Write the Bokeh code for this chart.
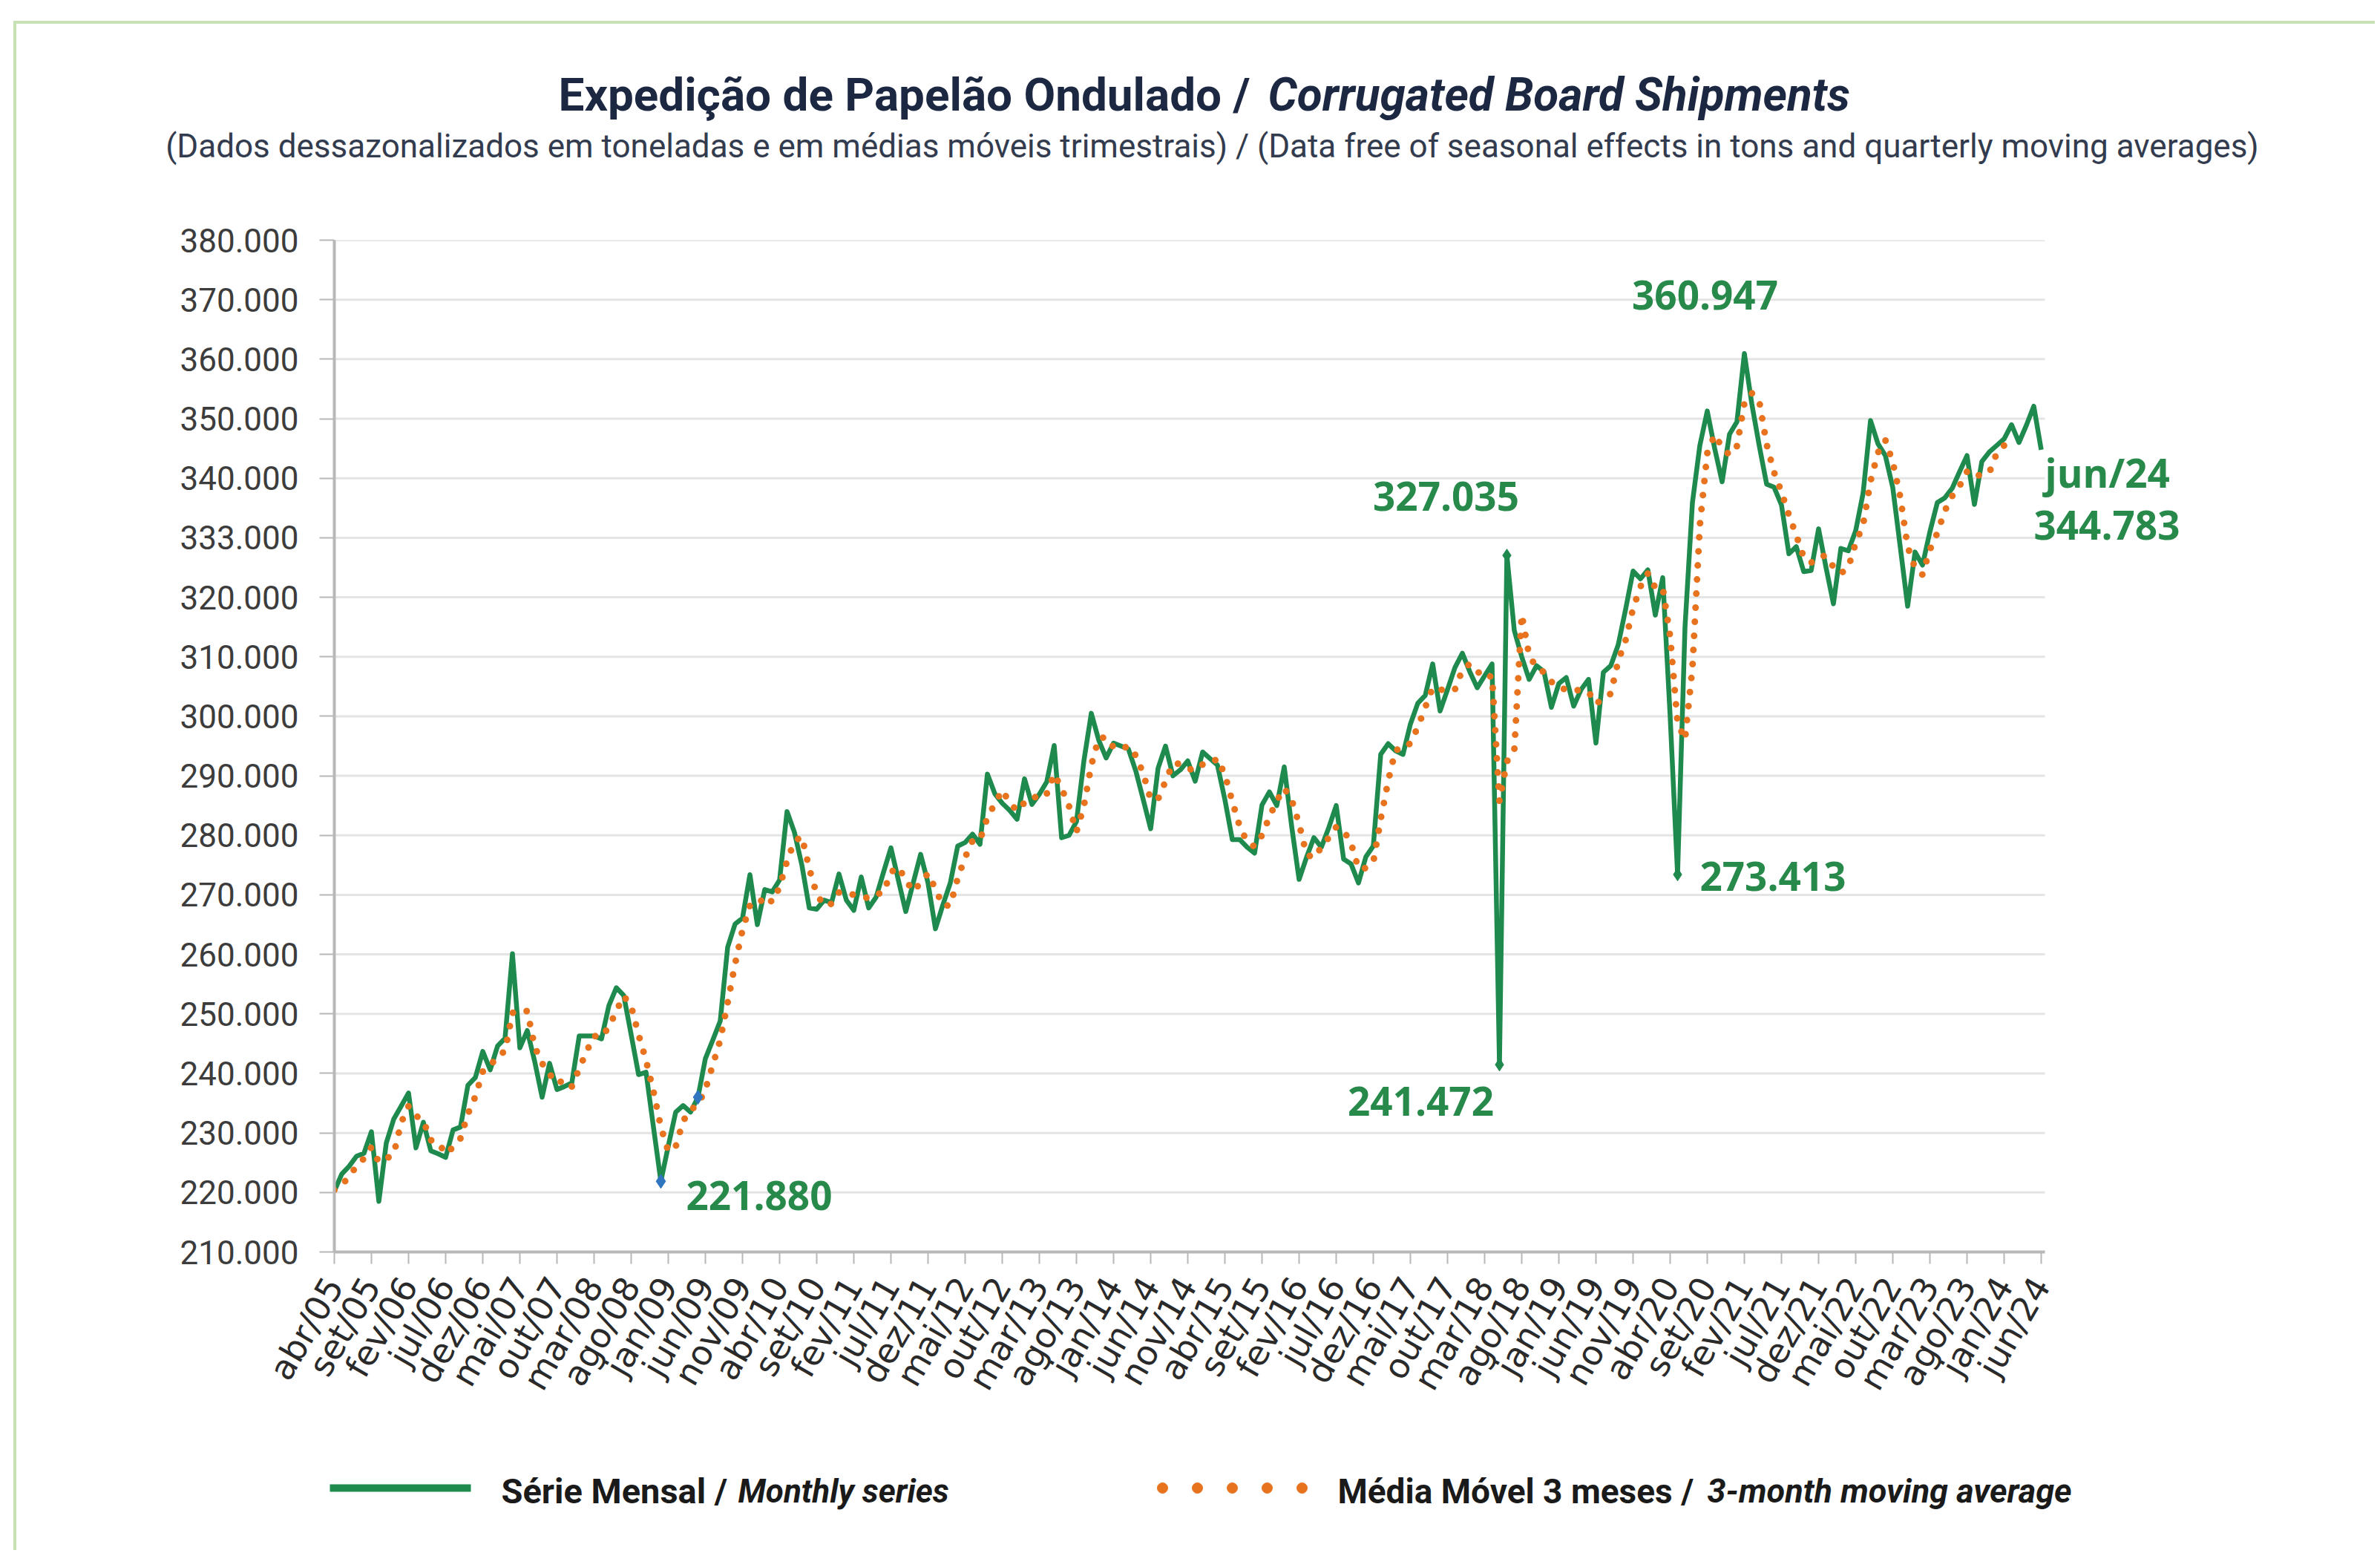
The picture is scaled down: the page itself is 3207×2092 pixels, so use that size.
import math
from bokeh.plotting import figure
from bokeh.models import Range1d, FixedTicker, Label
from bokeh.core.properties import value
from bokeh.embed import file_html
from bokeh.resources import INLINE

# ---------------- data (thousand tons) ----------------
x_tick_labels = ["abr/05", "set/05", "fev/06", "jul/06", "dez/06", "mai/07", "out/07", "mar/08",
                 "ago/08", "jan/09", "jun/09", "nov/09", "abr/10", "set/10", "fev/11", "jul/11",
                 "dez/11", "mai/12", "out/12", "mar/13", "ago/13", "jan/14", "jun/14", "nov/14",
                 "abr/15", "set/15", "fev/16", "jul/16", "dez/16", "mai/17", "out/17", "mar/18",
                 "ago/18", "jan/19", "jun/19", "nov/19", "abr/20", "set/20", "fev/21", "jul/21",
                 "dez/21", "mai/22", "out/22", "mar/23", "ago/23", "jan/24", "jun/24"]

y_tick_values = [210, 220, 230, 240, 250, 260, 270, 280, 290, 300, 310, 320, 330, 340, 350, 360, 370, 380]
y_tick_labels = ["210.000", "220.000", "230.000", "240.000", "250.000", "260.000", "270.000", "280.000",
                 "290.000", "300.000", "310.000", "320.000", "333.000", "340.000", "350.000", "360.000",
                 "370.000", "380.000"]

monthly = [
    220.2, 223.1, 224.4, 226.1, 226.6, 230.2, 218.5, 228.3, 232.3, 234.5,
    236.7, 227.5, 231.8, 227.0, 226.5, 225.9, 230.5, 231.0, 238.0, 239.3,
    243.7, 240.6, 244.6, 245.9, 260.1, 244.3, 247.2, 242.0, 236.0, 241.7,
    237.3, 237.8, 238.4, 246.3, 246.3, 246.3, 245.8, 251.4, 254.4, 253.1,
    246.5, 239.8, 240.2, 231.0, 221.880, 227.8, 233.5, 234.6, 233.5, 236.0,
    242.5, 245.6, 248.8, 261.2, 265.1, 266.1, 273.4, 265.0, 270.9, 270.5,
    272.5, 284.0, 280.5, 275.0, 267.8, 267.6, 269.1, 268.7, 273.5, 269.1,
    267.4, 273.0, 267.8, 269.6, 273.8, 277.9, 272.5, 267.2, 272.0, 276.8,
    272.0, 264.3, 268.3, 272.0, 278.2, 278.8, 280.2, 278.5, 290.3, 287.0,
    285.4, 284.2, 282.7, 289.5, 285.2, 286.9, 289.0, 295.1, 279.6, 280.0,
    282.3, 292.5, 300.5, 296.0, 293.0, 295.5, 295.0, 294.5, 290.8, 286.0,
    281.1, 291.3, 295.0, 290.0, 291.0, 292.5, 289.1, 294.0, 292.9, 291.8,
    286.0, 279.3, 279.3, 278.0, 277.0, 285.1, 287.3, 285.0, 291.5, 281.5,
    272.6, 276.3, 279.6, 278.0, 281.3, 285.0, 276.0, 275.2, 272.0, 276.4,
    278.2, 293.6, 295.4, 294.2, 293.6, 298.7, 302.2, 303.5, 308.8, 300.9,
    304.5, 308.2, 310.6, 307.5, 304.8, 306.8, 308.8, 241.472, 327.035, 314.4,
    310.0, 306.2, 308.5, 307.5, 301.5, 305.5, 306.5, 301.7, 304.5, 306.2,
    295.5, 307.4, 308.5, 312.0, 318.0, 324.4, 323.1, 324.6, 317.0, 323.3,
    300.0, 273.413, 315.0, 335.9, 345.5, 351.3, 345.0, 339.4, 347.4, 349.5,
    360.947, 352.5, 345.5, 339.0, 338.5, 335.5, 327.3, 328.5, 324.3, 324.5,
    331.5, 325.0, 318.9, 328.2, 327.8, 331.2, 337.5, 349.7, 345.8, 343.8,
    338.4, 328.5, 318.5, 327.6, 325.4, 331.0, 335.9, 336.7, 338.3, 341.1,
    343.8, 335.6, 342.8, 344.4, 345.5, 346.6, 349.0, 346.0, 348.9, 352.1,
    344.783]

moving_avg_3m = [
    220.4, 221.3, 222.6, 224.5, 225.7, 227.6, 225.1, 225.7, 226.4, 231.7,
    234.5, 232.9, 232.0, 228.8, 228.4, 226.5, 227.6, 229.1, 233.2, 236.1,
    240.3, 241.2, 243.0, 243.7, 250.2, 250.1, 250.5, 244.5, 241.7, 239.9,
    238.3, 238.9, 237.8, 240.8, 243.7, 246.3, 246.1, 247.8, 250.5, 253.0,
    251.3, 246.5, 242.2, 237.0, 231.0, 226.9, 227.7, 232.0, 233.9, 234.7,
    237.3, 241.4, 245.6, 251.9, 258.4, 264.1, 268.2, 268.2, 269.8, 268.8,
    271.3, 275.7, 279.0, 279.8, 274.4, 270.1, 268.2, 268.5, 270.4, 270.4,
    270.0, 269.8, 269.4, 270.1, 270.4, 273.8, 274.7, 272.5, 270.6, 272.0,
    273.6, 271.0, 268.2, 268.2, 272.8, 276.3, 279.1, 279.2, 283.0, 285.3,
    287.6, 285.5, 284.1, 285.5, 285.8, 287.2, 287.0, 290.3, 287.9, 284.9,
    280.6, 284.9, 291.8, 296.3, 296.5, 294.8, 294.5, 295.0, 293.4, 290.4,
    286.0, 286.1, 289.1, 292.1, 292.0, 291.2, 290.9, 291.9, 292.0, 292.9,
    290.2, 285.7, 281.5, 278.9, 278.1, 280.0, 283.1, 285.8, 287.9, 286.0,
    281.9, 276.8, 276.2, 278.0, 279.6, 281.4, 280.8, 278.7, 274.4, 274.5,
    275.5, 282.7, 289.1, 294.4, 294.4, 295.5, 298.2, 301.5, 304.8, 304.4,
    304.7, 304.5, 307.8, 308.8, 307.6, 306.4, 306.8, 285.7, 292.4, 294.3,
    317.1, 310.2, 308.2, 307.4, 305.8, 304.8, 304.5, 304.6, 304.2, 304.1,
    302.1, 303.0, 303.8, 309.3, 312.8, 318.1, 321.8, 324.0, 321.6, 321.6,
    313.4, 298.9, 296.1, 308.1, 332.1, 344.2, 347.3, 345.2, 343.9, 345.4,
    352.6, 354.3, 353.0, 345.7, 341.0, 337.7, 333.8, 330.4, 326.7, 325.8,
    326.8, 327.0, 325.1, 324.0, 325.0, 329.1, 332.2, 339.5, 344.3, 346.4,
    342.7, 336.9, 328.5, 324.9, 323.8, 328.0, 330.8, 334.5, 337.0, 338.7,
    341.1, 340.2, 340.7, 340.9, 344.2, 345.5]

annot_index = [190, 158, 157, 44, 181, 230, 230]
annot_text = ["360.947", "327.035", "241.472", "221.880", "273.413", "jun/24", "344.783"]
blue_marker_index = [44, 49]
green_marker_index = [157, 158, 181]

legend_texts = ["Série Mensal /", "Monthly series", "Média Móvel 3 meses /", "3-month moving average"]
title_texts = ["Expedição de Papelão Ondulado /", "Corrugated Board Shipments"]
subtitle_text = ("(Dados dessazonalizados em toneladas e em médias móveis trimestrais) / "
                 "(Data free of seasonal effects in tons and quarterly moving averages)")

# ---------------- style / layout ----------------
GREEN = "#1f8a4e"
LABEL_GREEN = "#27894a"
ORANGE = "#e8731f"
BLUE = "#2f75c0"
BORDER = "#c8e1b4"
W = 3200
H_HEAD, H_MAIN, H_FOOT = 298, 1610, 180
FL, FR = 450, 2968            # frame left / right (px)
FT, FB = 25, 1388             # frame top / bottom inside main figure
X_END = 230.5                 # end of the drawn x axis (months)

LEFT_LINE = "linear-gradient({c},{c}) 18px 0 / 4px 100% no-repeat".format(c=BORDER)
HEAD_BG = ("linear-gradient({c},{c}) 18px 28px / 4px 100% no-repeat, "
           "linear-gradient({c},{c}) 18px 28px / 100% 4px no-repeat, white").format(c=BORDER)

# ---------- header ----------
head = figure(width=W, height=H_HEAD, x_range=Range1d(0, W), y_range=Range1d(H_HEAD, 0),
              output_backend="svg", toolbar_location=None, title=None,
              x_axis_type=None, y_axis_type=None, min_border=0,
              styles={"background": HEAD_BG})
head.outline_line_color = None
head.background_fill_alpha = 0
head.border_fill_alpha = 0
head.text(x=[1684], y=[127], text=[title_texts[0]], text_font=value("Roboto"),
          text_font_style="bold", text_font_size="62px", text_color="#1c2742",
          text_align="right", text_baseline="middle")
head.text(x=[1708], y=[127], text=[title_texts[1]], text_font=value("Roboto"),
          text_font_style="bold italic", text_font_size="62px", text_color="#1c2742",
          text_align="left", text_baseline="middle")
head.text(x=[1633], y=[196], text=[subtitle_text], text_font=value("Roboto"),
          text_font_size="44px", text_color="#333c4e", text_align="center",
          text_baseline="middle")

# ---------- main chart ----------
months = list(range(len(monthly)))
p = figure(width=W, height=H_MAIN, x_range=Range1d(0, X_END * (FR - FL) / (2755 - FL)),
           y_range=Range1d(210, 380), output_backend="svg", toolbar_location=None, title=None,
           min_border_left=FL, min_border_right=W - FR, min_border_top=FT,
           min_border_bottom=H_MAIN - FB, styles={"background": LEFT_LINE + ", white"})
p.outline_line_color = None
p.background_fill_color = "white"
p.border_fill_alpha = 0

p.yaxis.ticker = FixedTicker(ticks=y_tick_values)
p.yaxis.major_label_overrides = {v: s for v, s in zip(y_tick_values, y_tick_labels)}
p.yaxis.axis_line_color = "#b8b8b8"
p.yaxis.axis_line_width = 4
p.yaxis.major_tick_line_color = "#b8b8b8"
p.yaxis.major_tick_line_width = 2
p.yaxis.major_tick_out = 20
p.yaxis.major_tick_in = 0
p.yaxis.minor_tick_line_color = None
p.yaxis.major_label_text_font = "Roboto"
p.yaxis.major_label_text_font_size = "44px"
p.yaxis.major_label_text_color = "#3c3c3c"
p.yaxis.major_label_standoff = 28

x_tick_pos = [5 * k for k in range(len(x_tick_labels))]
p.xaxis.ticker = FixedTicker(ticks=x_tick_pos)
p.xaxis.major_label_overrides = {v: s for v, s in zip(x_tick_pos, x_tick_labels)}
p.xaxis.bounds = (0, X_END)
p.xaxis.major_label_orientation = math.pi / 3
p.xaxis.axis_line_color = "#b8b8b8"
p.xaxis.axis_line_width = 4
p.xaxis.major_tick_line_color = "#b8b8b8"
p.xaxis.major_tick_line_width = 2
p.xaxis.major_tick_out = 16
p.xaxis.major_tick_in = 0
p.xaxis.minor_tick_line_color = None
p.xaxis.major_label_text_font = "DejaVu Sans"
p.xaxis.major_label_text_font_size = "46px"
p.xaxis.major_label_text_color = "#2a2a2a"
p.xaxis.major_label_standoff = 22

p.xgrid.grid_line_color = None
p.ygrid.grid_line_color = None
p.segment(x0=[0] * len(y_tick_values), x1=[X_END] * len(y_tick_values),
          y0=y_tick_values, y1=y_tick_values, line_color="#e4e4e4", line_width=3)

p.line(months, monthly, line_color=GREEN, line_width=6.5, line_join="round")
p.line(list(range(len(moving_avg_3m))), moving_avg_3m, line_color=ORANGE, line_width=9,
       line_dash="0 19", line_cap="round")
p.scatter(green_marker_index, [monthly[i] for i in green_marker_index],
          marker="diamond", size=17, color=GREEN)
p.scatter(blue_marker_index, [monthly[i] for i in blue_marker_index],
          marker="diamond", size=19, color=BLUE)

annot_dx = [-53, -82, -106, 34, 30, 5, -10]
annot_dy = [79, 80, -49, -19, -2, -31, -102]
annot_align = ["center", "center", "center", "left", "left", "left", "left"]
for i, t, dx, dy, al in zip(annot_index, annot_text, annot_dx, annot_dy, annot_align):
    p.add_layout(Label(x=i, y=monthly[i], x_offset=dx, y_offset=dy, text=t,
                       text_font="Open Sans", text_font_style="bold", text_font_size="53px",
                       text_color=LABEL_GREEN, text_align=al, text_baseline="middle"))

# ---------- footer (legend) ----------
foot = figure(width=W, height=H_FOOT, x_range=Range1d(0, W), y_range=Range1d(H_FOOT, 0),
              output_backend="svg", toolbar_location=None, title=None,
              x_axis_type=None, y_axis_type=None, min_border=0,
              styles={"background": LEFT_LINE + ", white"})
foot.outline_line_color = None
foot.background_fill_alpha = 0
foot.border_fill_alpha = 0
foot.line(x=[444, 634], y=[96, 96], line_color=GREEN, line_width=10)
foot.scatter(x=[1566 + 47 * k for k in range(5)], y=[96] * 5, marker="circle", size=14,
             color=ORANGE)
for fx, txt, style, fs in zip([675, 994, 1802, 2300], legend_texts,
                              ["bold", "bold italic", "bold", "bold italic"],
                              ["47px", "44px", "46px", "45px"]):
    foot.text(x=[fx], y=[100], text=[txt], text_font=value("Roboto"), text_font_style=style,
              text_font_size=fs, text_color="#1a1a1a", text_align="left",
              text_baseline="middle")

open("out.html", "w").write(file_html([head, p, foot], INLINE))
